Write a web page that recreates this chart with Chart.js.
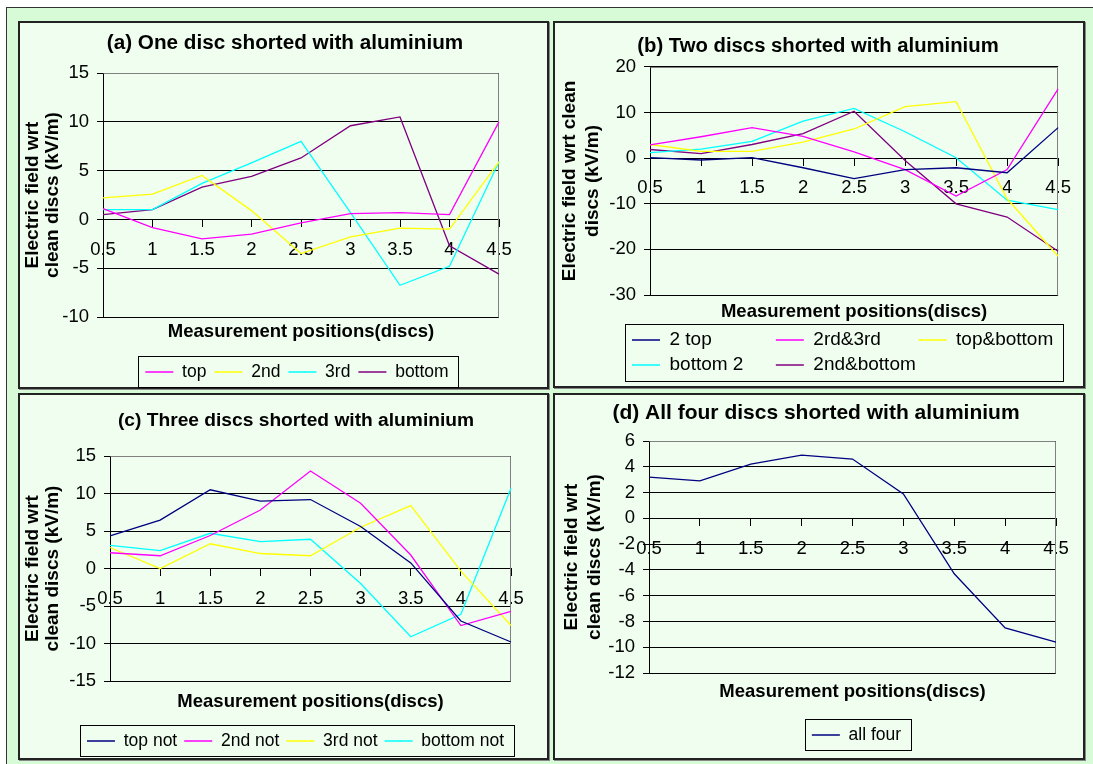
<!DOCTYPE html>
<html>
<head>
<meta charset="utf-8">
<script src="https://cdn.jsdelivr.net/npm/chart.js@4.4.1/dist/chart.umd.min.js"></script>
<style>
  html, body { margin: 0; padding: 0; background: #fff; }
  body { width: 1093px; height: 764px; position: relative; overflow: hidden; }
  #outer { position: absolute; left: 6px; top: 7px; width: 1100px; height: 770px; background: #d6fbd6; border: 1px solid #333; }
  .panel { position: absolute; box-sizing: border-box; background: #effeef; border: 2px solid #222; box-shadow: 1px 1px 0 #888; }
  canvas { position: absolute; }
</style>
</head>
<body>
<div id="outer"></div>
<div class="panel" style="left:18px;top:21px;width:531px;height:368px"></div>
<div class="panel" style="left:553px;top:21px;width:532px;height:367px"></div>
<div class="panel" style="left:18px;top:393px;width:531px;height:367px"></div>
<div class="panel" style="left:553px;top:393px;width:532px;height:367px"></div>
<canvas id="chartA" style="left:20px;top:23px" width="527" height="368"></canvas>
<canvas id="chartB" style="left:555px;top:23px" width="528" height="365"></canvas>
<canvas id="chartC" style="left:20px;top:395px" width="527" height="366"></canvas>
<canvas id="chartD" style="left:555px;top:395px" width="528" height="360"></canvas>
<script>
// measurement positions (x axis)
const positions = ['0.5', '1', '1.5', '2', '2.5', '3', '3.5', '4', '4.5'];

// (a) one disc shorted
const namesA = ['top', '2nd', '3rd', 'bottom'];
const aTop = [1.1, -0.85, -2.0, -1.5, -0.35, 0.6, 0.7, 0.5, 10.0];
const a2nd = [2.2, 2.6, 4.5, 0.9, -3.5, -1.8, -0.9, -1.0, 5.9];
const a3rd = [1.0, 1.0, 3.7, 5.8, 8.0, 0.7, -6.75, -4.8, 5.9];
const aBottom = [0.5, 1.0, 3.3, 4.4, 6.3, 9.6, 10.5, -2.7, -5.6];
const ticksA = [-10, 15, 5];

// (b) two discs shorted
const namesB = ['2 top', '2rd&3rd', 'top&bottom', 'bottom 2', '2nd&bottom'];
const b2top = [0.1, -0.4, 0.1, -2.1, -4.5, -2.5, -2.1, -3.2, 6.7];
const b2rd3rd = [2.9, 4.7, 6.7, 4.8, 1.4, -2.5, -8.3, -2.5, 15.2];
const bTopBottom = [3.0, 1.5, 1.5, 3.5, 6.4, 11.3, 12.4, -8.9, -21.5];
const bBottom2 = [1.2, 2.0, 3.7, 8.1, 10.9, 5.8, 0.1, -9.2, -11.3];
const b2ndBottom = [1.9, 1.0, 3.0, 5.4, 10.3, -0.5, -10.0, -12.9, -20.4];
const ticksB = [-30, 20, 10];

// (c) three discs shorted
const namesC = ['top not', '2nd not', '3rd not', 'bottom not'];
const cTopNot = [4.35, 6.45, 10.5, 9.0, 9.2, 5.6, 0.75, -7.0, -9.8];
const c2ndNot = [2.1, 1.7, 4.4, 7.8, 13.0, 8.7, 1.8, -7.6, -5.7];
const c3rdNot = [2.8, 0.0, 3.3, 2.0, 1.7, 5.5, 8.4, -0.35, -7.6];
const cBottomNot = [3.1, 2.4, 4.7, 3.6, 3.9, -2.0, -9.1, -6.1, 10.7];
const ticksC = [-15, 15, 5];

// (d) all four discs shorted
const namesD = ['all four'];
const dAllFour = [3.2, 2.9, 4.2, 4.9, 4.6, 1.9, -4.3, -8.5, -9.6];
const ticksD = [-12, 6, 2];

const NAVY = '#000080', MAGENTA = '#ff00ff', YELLOW = '#ffff00', CYAN = '#00ffff', PURPLE = '#800080';

Chart.defaults.font.family = "'Liberation Sans', Arial, sans-serif";
Chart.defaults.color = '#000';

// gray frame on top and right of the plot area
const frame = {
  id: 'frame',
  beforeDatasetsDraw(chart) {
    const a = chart.chartArea, ctx = chart.ctx;
    const l = Math.round(a.left) + 0.5, t = Math.round(a.top) + 0.5;
    const r = Math.round(a.right) - 0.5, b = Math.round(a.bottom) + 0.5;
    ctx.save();
    ctx.strokeStyle = '#808080';
    ctx.lineWidth = 1;
    ctx.beginPath();
    ctx.moveTo(l, t);
    ctx.lineTo(r, t);
    ctx.lineTo(r, b);
    ctx.stroke();
    ctx.restore();
  }
};

// box around the legend, sideways shift of legend and title
const legendBox = {
  id: 'legendBox',
  afterLayout(chart, args, opts) {
    const lg = chart.legend, tb = chart.titleBlock;
    if (opts.shift) { lg.left += opts.shift; lg.right += opts.shift; }
    if (opts.titleShift) { tb.left += opts.titleShift; tb.right += opts.titleShift; }
  },
  afterDraw(chart) {
    const hb = chart.legend.legendHitBoxes;
    let x0 = Infinity, y0 = Infinity, x1 = -Infinity, y1 = -Infinity;
    hb.forEach(h => {
      x0 = Math.min(x0, h.left); y0 = Math.min(y0, h.top);
      x1 = Math.max(x1, h.left + h.width); y1 = Math.max(y1, h.top + h.height);
    });
    const ctx = chart.ctx;
    ctx.save();
    ctx.strokeStyle = '#000';
    ctx.lineWidth = 1;
    ctx.strokeRect(Math.round(x0 - 7) + 0.5, Math.round(y0 - 7) + 0.5, Math.round(x1 - x0 + 17), Math.round(y1 - y0 + 13));
    ctx.restore();
  }
};

function makeChart(id, s) {
  const datasets = s.names.map((name, i) => ({
    label: name,
    data: s.series[i],
    borderColor: s.colors[i],
    backgroundColor: s.colors[i],
    borderWidth: 1.3,
    pointRadius: 0,
    tension: 0,
    fill: false
  }));
  const spaces = s.legSpaces || [];
  new Chart(document.getElementById(id), {
    type: 'line',
    data: { labels: positions, datasets },
    options: {
      responsive: false,
      animation: false,
      layout: { padding: { left: 0, top: 0, right: s.padRight, bottom: s.padBottom } },
      scales: {
        x: {
          type: 'category',
          position: { y: 0 },
          offset: false,
          grid: { drawOnChartArea: false, drawTicks: true, tickLength: 7, color: '#000' },
          border: { color: '#000', width: 1 },
          ticks: { font: { size: 18.5 }, color: '#000', padding: 12, autoSkip: false, maxRotation: 0 }
        },
        y: {
          min: s.ticks[0],
          max: s.ticks[1],
          ticks: { stepSize: s.ticks[2], font: { size: 18.5 }, color: '#000', padding: 8 },
          grid: { color: '#000', tickLength: 6 },
          border: { color: '#000' },
          title: {
            display: true, text: s.yTitle, color: '#000',
            font: { size: 19, weight: 'bold', lineHeight: s.yTitleLH },
            padding: { top: s.yTitlePad, bottom: 0 }
          },
          afterFit(scale) { scale.width = s.yWidth; }
        }
      },
      plugins: {
        title: { display: true, text: s.title, color: '#000', font: { size: s.titleFont, weight: 'bold' }, padding: s.titlePad },
        subtitle: {
          display: true, text: 'Measurement positions(discs)', position: 'bottom', fullSize: false, weight: 500,
          color: '#000', font: { size: 18.5, weight: 'bold' }, padding: s.subPad
        },
        legend: {
          position: 'bottom', fullSize: s.legFull, align: s.legAlign,
          labels: {
            usePointStyle: true, pointStyle: 'line', pointStyleWidth: 28,
            font: { size: s.legFont }, color: '#000', padding: s.legPad,
            generateLabels(chart) {
              const items = Chart.defaults.plugins.legend.labels.generateLabels(chart);
              items.forEach((it, i) => { it.text += ' '.repeat(spaces[i] || 0); });
              return items;
            }
          }
        },
        tooltip: { enabled: false },
        legendBox: { shift: s.legShift, titleShift: s.titleShift }
      }
    },
    plugins: [frame, legendBox]
  });
}

makeChart('chartA', {
  title: '(a) One disc shorted with aluminium',
  yTitle: ['Electric field wrt', 'clean discs (kV/m)'],
  names: namesA, colors: [MAGENTA, YELLOW, CYAN, PURPLE],
  series: [aTop, a2nd, a3rd, aBottom], ticks: ticksA,
  padRight: 48, padBottom: 0.25, yWidth: 83, yTitlePad: 3, yTitleLH: '20px',
  titleFont: 20.7, titlePad: { top: 7.6, bottom: 17.6 }, titleShift: 25.5,
  subPad: { top: 3.9, bottom: 12.15 },
  legFont: 17.5, legPad: 8, legFull: false, legAlign: 'center', legShift: -4
});

makeChart('chartB', {
  title: '(b) Two discs shorted with aluminium',
  yTitle: ['Electric field wrt clean', 'discs (kV/m)'],
  names: namesB, colors: [NAVY, MAGENTA, YELLOW, CYAN, PURPLE],
  series: [b2top, b2rd3rd, bTopBottom, bBottom2, b2ndBottom], ticks: ticksB,
  padRight: 23, padBottom: 3.5, yWidth: 95, yTitlePad: 3.5, yTitleLH: '23px',
  titleFont: 20.3, titlePad: { top: 10.8, bottom: 8.8 }, titleShift: 10.5,
  subPad: { top: 5.9, bottom: 1.4 },
  legFont: 19, legPad: 6, legFull: true, legAlign: 'start', legShift: 71, legSpaces: [11, 6, 0, 5, 0]
});

makeChart('chartC', {
  title: '(c) Three discs shorted with aluminium',
  yTitle: ['Electric field wrt', 'clean discs (kV/m)'],
  names: namesC, colors: [NAVY, MAGENTA, YELLOW, CYAN],
  series: [cTopNot, c2ndNot, c3rdNot, cBottomNot], ticks: ticksC,
  padRight: 36, padBottom: 1.25, yWidth: 90, yTitlePad: 3, yTitleLH: '20px',
  titleFont: 19.2, titlePad: { top: 14.5, bottom: 23.5 }, titleShift: 30.5,
  subPad: { top: 9.9, bottom: 12.15 },
  legFont: 17.5, legPad: 7, legFull: true, legAlign: 'center', legShift: 30
});

makeChart('chartD', {
  title: '(d) All four discs shorted with aluminium',
  yTitle: ['Electric field wrt', 'clean discs (kV/m)'],
  names: namesD, colors: [NAVY],
  series: [dAllFour], ticks: ticksD,
  padRight: 27, padBottom: 1.25, yWidth: 94, yTitlePad: 5.5, yTitleLH: '23px',
  titleFont: 21, titlePad: { top: 5.4, bottom: 15.4 }, titleShift: 10.5,
  subPad: { top: 7.9, bottom: 15.15 },
  legFont: 17.5, legPad: 8, legFull: false, legAlign: 'center', legShift: 4
});
</script>
</body>
</html>
